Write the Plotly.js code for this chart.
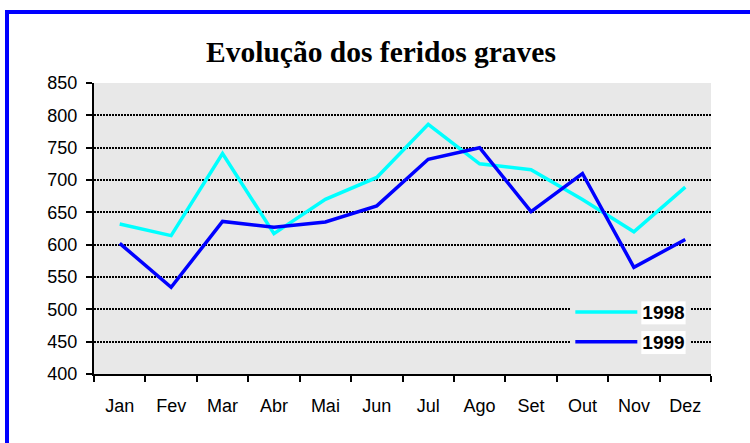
<!DOCTYPE html>
<html>
<head>
<meta charset="utf-8">
<script src="https://cdn.plot.ly/plotly-3.0.1.min.js"></script>
<style>
html,body{margin:0;padding:0;background:#fff;width:750px;height:443px;overflow:hidden;}
#frame{position:absolute;left:5px;top:10px;width:800px;height:500px;border-left:4px solid #0000ff;border-top:4px solid #0000ff;}
#chart{position:absolute;left:0;top:0;width:750px;height:443px;}
</style>
</head>
<body>
<div id="frame"></div>
<div id="chart"></div>
<script>
const months = ["Jan","Fev","Mar","Abr","Mai","Jun","Jul","Ago","Set","Out","Nov","Dez"];
const values1998 = [632, 614, 741, 617, 670, 704, 786, 725, 716, 670, 620, 689];
const values1999 = [602, 534, 636, 627, 635, 660, 732, 750, 651, 710, 565, 608];
const yTicks = [400, 450, 500, 550, 600, 650, 700, 750, 800, 850];

const traces = [
  {x: months, y: values1998, name: "1998", type: "scatter", mode: "lines",
   line: {color: "#00ffff", width: 3.5}, legendgroup: "a"},
  {x: months, y: values1999, name: "1999", type: "scatter", mode: "lines",
   line: {color: "#0000ff", width: 3.5}, legendgroup: "b"}
];

const tickFont = {family: "Liberation Sans, Arial, sans-serif", size: 18, color: "#000"};

const layout = {
  width: 750, height: 443,
  paper_bgcolor: "rgba(0,0,0,0)",
  plot_bgcolor: "#e8e8e8",
  margin: {l: 94, r: 39, t: 83, b: 69, pad: 0},
  title: {text: "Evolução dos feridos graves", x: 0.508, xanchor: "center", y: 0.883, yanchor: "middle",
    font: {family: "Liberation Serif, Times New Roman, serif", size: 29.5, color: "#000", weight: "bold"}},
  xaxis: {type: "category", showline: true, linecolor: "#000", linewidth: 2,
    ticks: "outside", tickson: "boundaries", ticklen: 6, tickcolor: "#000", tickwidth: 2,
    showgrid: false, tickfont: tickFont, ticklabelstandoff: 14, range: [-0.5, 11.5]},
  yaxis: {range: [400, 850], tickvals: yTicks, showline: true, linecolor: "#000", linewidth: 2,
    ticks: "outside", ticklen: 6, tickcolor: "#000", tickwidth: 2,
    showgrid: true, gridcolor: "#000", gridwidth: 2, griddash: "2px,1px", zeroline: false,
    tickfont: tickFont, ticklabelstandoff: 5},
  showlegend: true,
  legend: {x: 0.772, y: 0.278, xanchor: "left", yanchor: "top", bgcolor: "#e8e8e8",
    traceorder: "grouped", tracegroupgap: 2, itemwidth: 62,
    font: {family: "Liberation Sans, Arial, sans-serif", size: 19, color: "#000", weight: "bold"}}
};

Plotly.newPlot("chart", traces, layout, {displayModeBar: false, staticPlot: true}).then(function (gd) {
  // white boxes behind the legend labels, as in the original
  gd.querySelectorAll(".legend .traces").forEach(function (g) {
    const t = g.querySelector(".legendtext");
    if (!t) return;
    const b = t.getBBox();
    const r = document.createElementNS("http://www.w3.org/2000/svg", "rect");
    r.setAttribute("x", b.x - 1);
    r.setAttribute("y", b.y - 1);
    r.setAttribute("width", b.width + 2);
    r.setAttribute("height", b.height + 2);
    r.setAttribute("fill", "#ffffff");
    t.parentNode.insertBefore(r, t);
  });
});
</script>
</body>
</html>
